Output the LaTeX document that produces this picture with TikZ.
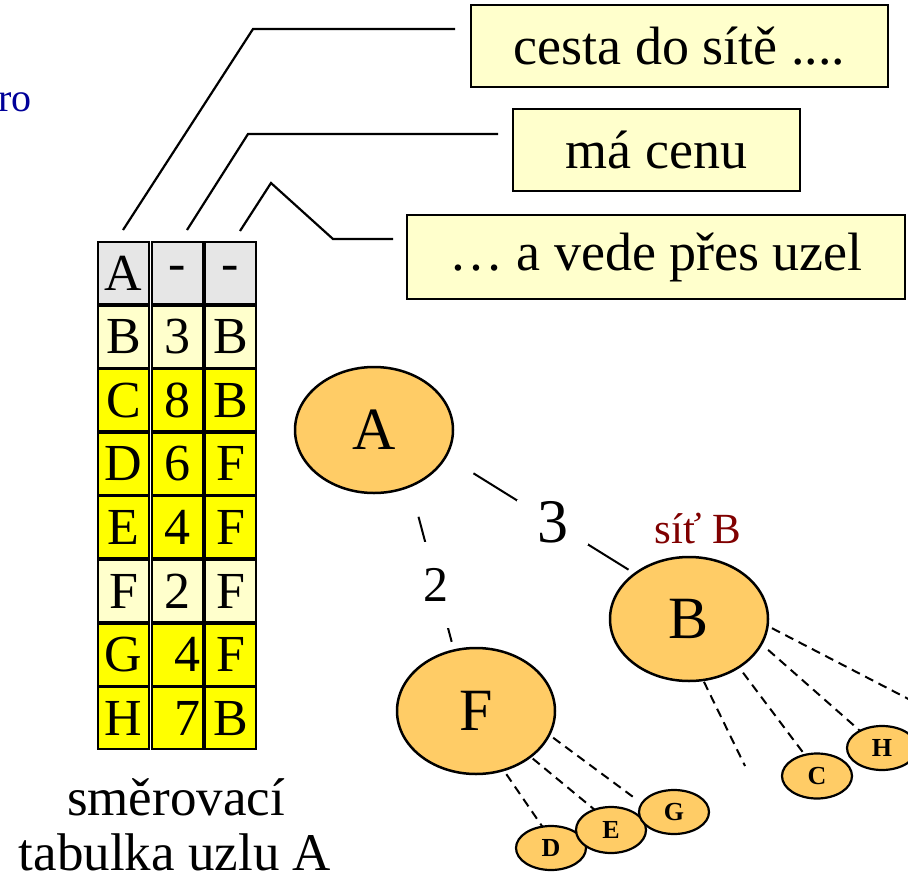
\documentclass[tikz,border=0pt]{standalone}
\usepackage{fontspec}
\setmainfont{Liberation Serif}
\usetikzlibrary{shapes.geometric}
\definecolor{boxfill}{HTML}{FFFFCC}
\definecolor{nodefill}{HTML}{FFCC66}
\definecolor{hdrfill}{HTML}{E6E6E6}
\definecolor{yel}{HTML}{FFFF00}
\definecolor{darkred}{HTML}{800000}
\definecolor{roblue}{HTML}{000099}
\begin{document}
\begin{tikzpicture}[x=1pt,y=-1pt,
  callout/.style={draw=black, line width=2.2pt, fill=boxfill, inner sep=0pt, font=\fontsize{54}{60}\selectfont},
  cell/.style={draw=black, line width=2pt, minimum width=51pt, minimum height=62pt, inner sep=0pt, anchor=north west, font=\fontsize{52}{56}\selectfont},
  bignode/.style={ellipse, draw=black, line width=2.5pt, fill=nodefill, minimum width=158pt, minimum height=126pt, inner sep=0pt, outer sep=0pt, font=\fontsize{60}{60}\selectfont},
  smallnode/.style={ellipse, draw=black, line width=2.2pt, fill=nodefill, minimum width=70pt, minimum height=44pt, inner sep=0pt, outer sep=0pt, font=\fontsize{26}{26}\selectfont\bfseries},
  leader/.style={line width=2.2pt, line join=miter},
  link/.style={line width=2pt},
  sub/.style={line width=2pt, dash pattern=on 9pt off 6pt},
  weight/.style={fill=white, inner sep=0pt},
  caption/.style={font=\fontsize{53}{55}\selectfont, inner sep=0pt, anchor=base},
]
\useasboundingbox (0,0) rectangle (908,881);
\clip (0,0) rectangle (908,881);

% partial text at left edge
\node[text=roblue, font=\fontsize{40}{40}\selectfont, anchor=base west, inner sep=0pt] (ro) at (-2,111) {ro};

% callout boxes
\node[callout, minimum width=417pt, minimum height=82pt] (c1) at (679.5,46) {cesta do sítě ....};
\node[callout, minimum width=287pt, minimum height=82pt] (c2) at (656.5,150) {má cenu};
\node[callout, minimum width=498pt, minimum height=84pt] (c3) at (656,257) {… a vede přes uzel};

% leader lines
\coordinate (l1a) at (123,230); \coordinate (l1b) at (253,29); \coordinate (l1c) at (455,29);
\coordinate (l2a) at (187,230); \coordinate (l2b) at (248,134); \coordinate (l2c) at (498,134);
\coordinate (l3a) at (240,231); \coordinate (l3b) at (271,183); \coordinate (l3c) at (333,239); \coordinate (l3d) at (393,239);
\draw[leader] (l1a) -- (l1b) -- (l1c);
\draw[leader] (l2a) -- (l2b) -- (l2c);
\draw[leader] (l3a) -- (l3b) -- (l3c) -- (l3d);

% routing table
\foreach \r/\b/\c/\f/\s [count=\i from 0] in {A/-/-/hdrfill/0, B/3/B/boxfill/0, C/8/B/yel/0, D/6/F/yel/0, E/4/F/yel/0, F/2/F/boxfill/0, G/4/F/yel/19, H/7/B/yel/19}{
  \pgfmathsetmacro\yy{241+63.6*\i}
  \node[cell, fill=\f] (t\r1) at (97,\yy) {\r};
  \node[cell, fill=\f] (t\r2) at (151,\yy) {\kern\s pt\b};
  \node[cell, fill=\f] (t\r3) at (204,\yy) {\c};
}

\node[caption] (cap1) at (176,815) {směrovací};
\node[caption] (cap2) at (175,870) {tabulka uzlu A};

% network
\node[bignode] (A) at (374,430) {A};
\node[bignode, minimum height=124pt] (B) at (689,619) {B};
\node[bignode] (F) at (476,711) {F};
\node[text=darkred, font=\fontsize{43}{43}\selectfont, anchor=base, inner sep=0pt] (sitB) at (698,543) {síť B};

\node[smallnode] (D) at (551,848) {D};
\node[smallnode, minimum height=46pt] (E) at (611,830) {E};
\node[smallnode] (G) at (674,812) {G};
\node[smallnode, minimum height=45pt] (C) at (817,776) {C};
\node[smallnode] (H) at (882,748) {H};

\draw[link, shorten <=32.5pt, shorten >=7.7pt] (A.-20.5) -- node[weight, pos=.566, minimum width=71pt, minimum height=45pt, font=\fontsize{62}{62}\selectfont]{3} (B.140.5);
\draw[link, shorten <=31.9pt, shorten >=9pt] (A.-57.4) -- node[weight, pos=.599, minimum width=28pt, minimum height=86pt, font=\fontsize{50}{50}\selectfont]{2} (F.110.6);

\draw[sub, shorten <=5pt] (F.-65) -- (D.112);
\draw[sub, shorten <=3pt] (F.-40) -- (E.129);
\draw[sub, shorten <=5pt, shorten >=11pt] (F.-18) -- (G.165);

\coordinate (bx1) at (745,766);
\coordinate (bx2) at (920,705);
\draw[sub, shorten <=2pt] (B.-77) -- (bx1);
\draw[sub, shorten <=7pt] (B.-44) -- (C.120);
\draw[sub, shorten <=9pt] (B.-19) -- (H.142);
\draw[sub, shorten <=5pt] (B.-5) -- (bx2);
\end{tikzpicture}
\end{document}
